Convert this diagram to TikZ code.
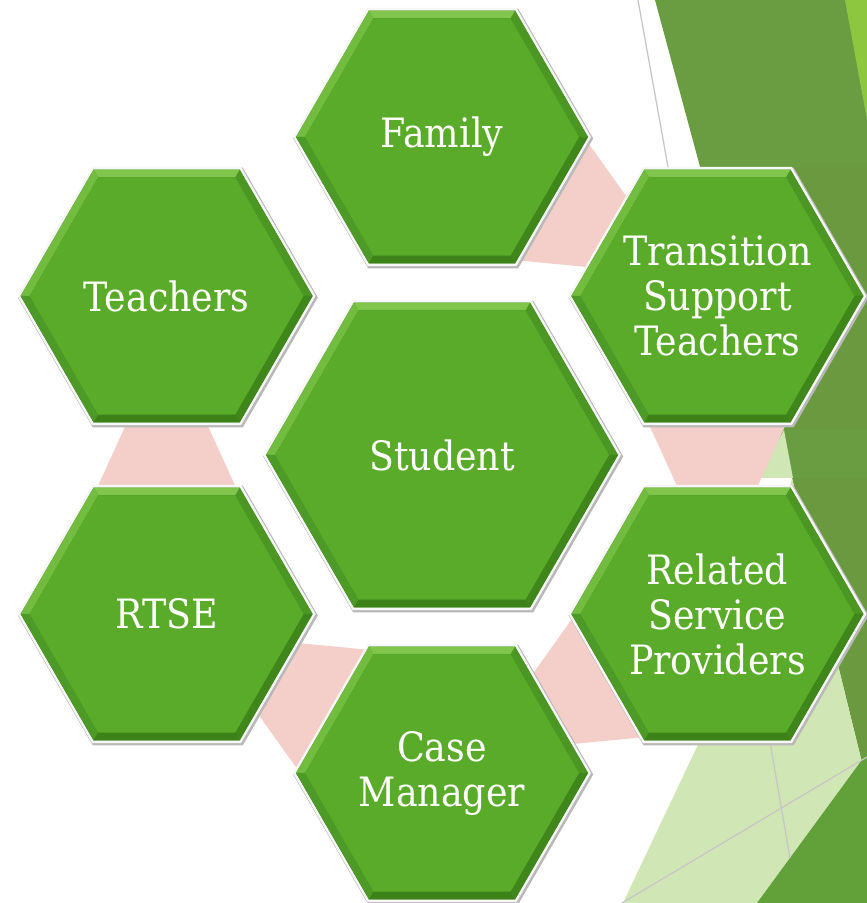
\documentclass[tikz,border=0pt]{standalone}
\usepackage{fontspec}
\setmainfont{DejaVu Serif Condensed}
\usetikzlibrary{calc,backgrounds}
% contorno hexagonal
\newcommand{\hexp}[2]{($(#1.center)+(0:{#2})$) -- ($(#1.center)+(60:{#2})$) -- ($(#1.center)+(120:{#2})$) -- ($(#1.center)+(180:{#2})$) -- ($(#1.center)+(240:{#2})$) -- ($(#1.center)+(300:{#2})$) -- cycle}
% hexagono con bisel
\newcommand{\hexa}[2]{%
  \coordinate (sh) at ($(#1.center)+(1.2,-1.5)$);
  \fill[gray!55] \hexp{sh}{#2};
  \fill[white!94!gray] \hexp{#1}{#2-1};
  \fill[bvb] \hexp{#1}{#2-4};
  \foreach \a/\c in {0/bvr,60/bvt,120/bvl,180/bvbl,240/bvb,300/bvbr}
    \fill[\c] ($(#1.center)+(\a:{#2-4})$) -- ($(#1.center)+({\a+60}:{#2-4})$) -- ($(#1.center)+({\a+60}:{#2-13})$) -- ($(#1.center)+(\a:{#2-13})$) -- cycle;
  \fill[gg] \hexp{#1}{#2-13};
}
\tikzset{txt/.style={text=white, align=center, inner sep=0pt, font=\fontsize{23}{25.6}\selectfont}}
\begin{document}
\begin{tikzpicture}[x=0.2mm,y=0.2mm]
        %colores
        \definecolor{gg}{HTML}{5AAB2A}
        \definecolor{bvt}{HTML}{80C64C}
        \definecolor{bvl}{HTML}{72BD40}
        \definecolor{bvbl}{HTML}{4E9A26}
        \definecolor{bvb}{HTML}{3C8219}
        \definecolor{bvbr}{HTML}{3F861B}
        \definecolor{bvr}{HTML}{4C9623}
        \definecolor{pk}{HTML}{F4CEC8}
        \definecolor{pat}{HTML}{6A9C42}
        \definecolor{oliva}{HTML}{6A9940}
        \definecolor{lima}{HTML}{8DC63F}
        \definecolor{claro}{HTML}{D1E6B5}
        \definecolor{oscuro}{HTML}{62A03A}
        \useasboundingbox (0,0) rectangle (867,903);

        % textos
        \node[txt] (stu) at (442,448) {Student};
        \foreach \ang/\nm/\txt in {90/fam/Family,30/tst/{Transition\\Support\\Teachers},-30/rsp/{Related\\Service\\Providers},-90/cm/{Case\\Manager},-150/rtse/RTSE,150/tea/Teachers}
        \node[txt] (\nm) at ($(stu)+(\ang:318)$) {\txt};

        \begin{pgfonlayer}{background}
            % fondo
            \fill[white] (0,0) rectangle (867,903);
            \fill[pat] (655,903) -- (867,903) -- (867,425) -- (784,425) -- cycle;
            \fill[lima] (845,903) -- (867,903) -- (867,783) -- cycle;
            \fill[oliva] (760,736) -- (867,736) -- (867,473) -- (760,473) -- cycle;
            \fill[oliva] (792,425) -- (867,425) -- (867,120) -- cycle;
            \fill[claro] (623,0) -- (757,283) -- (792,425) -- (867,120) -- (867,0) -- cycle;
            \fill[claro] (758,425) -- (784,473) -- (793,425) -- cycle;
            \fill[oscuro] (757,0) -- (867,150) -- (867,0) -- cycle;
            \draw[gray!45,line width=0.25mm] (638,903) -- (668,736) (622,0) -- (867,146) (770,161) -- (790,45);

            % triangulos rosas
            \foreach \p/\q in {fam/tst,tst/rsp,rsp/cm,cm/rtse,rtse/tea}
            \fill[pk] ($(\p.center)!25.4mm!90:(\q.center)$) -- ($(\p.center)!0.876!(\q.center)$) -- ($(\p.center)!25.4mm!-90:(\q.center)$) -- cycle;

            % hexagonos
            \foreach \nm in {fam,tst,rsp,cm,rtse,tea}
            {\hexa{\nm}{150}}
            \hexa{stu}{180}
        \end{pgfonlayer}
    \end{tikzpicture}
\end{document}
